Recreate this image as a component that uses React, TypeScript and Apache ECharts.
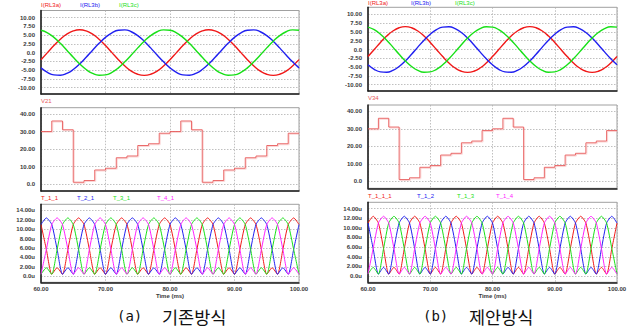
import React, { useEffect, useRef } from "react";
import * as echarts from "echarts";

// ---------- data ----------
const sineTime = [60, 61, 62, 63, 64, 65, 66, 67, 68, 69, 70, 71, 72, 73, 74, 75, 76, 77, 78, 79, 80, 81, 82, 83, 84, 85, 86, 87, 88, 89, 90, 91, 92, 93, 94, 95, 96, 97, 98, 99, 100];
const iRL3a = [-2.01, 0, 2.01, 3.82, 5.26, 6.18, 6.5, 6.18, 5.26, 3.82, 2.01, 0, -2.01, -3.82, -5.26, -6.18, -6.5, -6.18, -5.26, -3.82, -2.01, 0, 2.01, 3.82, 5.26, 6.18, 6.5, 6.18, 5.26, 3.82, 2.01, 0, -2.01, -3.82, -5.26, -6.18, -6.5, -6.18, -5.26, -3.82, -2.01];
const iRL3b = [-4.35, -5.63, -6.36, -6.47, -5.94, -4.83, -3.25, -1.35, 0.68, 2.64, 4.35, 5.63, 6.36, 6.47, 5.94, 4.83, 3.25, 1.35, -0.68, -2.64, -4.35, -5.63, -6.36, -6.47, -5.94, -4.83, -3.25, -1.35, 0.68, 2.64, 4.35, 5.63, 6.36, 6.47, 5.94, 4.83, 3.25, 1.35, -0.68, -2.64, -4.35];
const iRL3c = [6.36, 5.63, 4.35, 2.64, 0.68, -1.35, -3.25, -4.83, -5.94, -6.47, -6.36, -5.63, -4.35, -2.64, -0.68, 1.35, 3.25, 4.83, 5.94, 6.47, 6.36, 5.63, 4.35, 2.64, 0.68, -1.35, -3.25, -4.83, -5.94, -6.47, -6.36, -5.63, -4.35, -2.64, -0.68, 1.35, 3.25, 4.83, 5.94, 6.47, 6.36];

const stepTime = [60, 61.67, 63.33, 65, 66.67, 68.33, 70, 71.67, 73.33, 75, 76.67, 78.33, 80, 81.67, 83.33, 85, 86.67, 88.33, 90, 91.67, 93.33, 95, 96.67, 98.33, 100];
const v21 = [30, 36, 31, 1, 2, 8, 9, 15, 16, 22, 23, 29, 30, 36, 31, 1, 2, 8, 9, 15, 16, 22, 23, 29, 29];
const v34 = [30, 36, 31, 1, 2, 8, 9, 15, 16, 22, 23, 29, 30, 36, 31, 1, 2, 8, 9, 15, 16, 22, 23, 29, 29];

const tTime = [60, 60.83, 61.67, 62.5, 63.33, 64.17, 65, 65.83, 66.67, 67.5, 68.33, 69.17, 70, 70.83, 71.67, 72.5, 73.33, 74.17, 75, 75.83, 76.67, 77.5, 78.33, 79.17, 80, 80.83, 81.67, 82.5, 83.33, 84.17, 85, 85.83, 86.67, 87.5, 88.33, 89.17, 90, 90.83, 91.67, 92.5, 93.33, 94.17, 95, 95.83, 96.67, 97.5, 98.33, 99.17, 100];
// (a) conventional
const t11 = [11, 5.7, 0.4, 1.8, 0.4, 5.7, 11, 12.4, 11, 5.7, 0.4, 1.8, 0.4, 5.7, 11, 12.4, 11, 5.7, 0.4, 1.8, 0.4, 5.7, 11, 12.4, 11, 5.7, 0.4, 1.8, 0.4, 5.7, 11, 12.4, 11, 5.7, 0.4, 1.8, 0.4, 5.7, 11, 12.4, 11, 5.7, 0.4, 1.8, 0.4, 5.7, 11, 12.4, 11];
const t21 = [11, 12.4, 11, 5.7, 0.4, 1.8, 0.4, 5.7, 11, 12.4, 11, 5.7, 0.4, 1.8, 0.4, 5.7, 11, 12.4, 11, 5.7, 0.4, 1.8, 0.4, 5.7, 11, 12.4, 11, 5.7, 0.4, 1.8, 0.4, 5.7, 11, 12.4, 11, 5.7, 0.4, 1.8, 0.4, 5.7, 11, 12.4, 11, 5.7, 0.4, 1.8, 0.4, 5.7, 11];
const t31 = [0.4, 1.8, 0.4, 5.7, 11, 12.4, 11, 5.7, 0.4, 1.8, 0.4, 5.7, 11, 12.4, 11, 5.7, 0.4, 1.8, 0.4, 5.7, 11, 12.4, 11, 5.7, 0.4, 1.8, 0.4, 5.7, 11, 12.4, 11, 5.7, 0.4, 1.8, 0.4, 5.7, 11, 12.4, 11, 5.7, 0.4, 1.8, 0.4, 5.7, 11, 12.4, 11, 5.7, 0.4];
const t41 = [0.4, 5.7, 11, 12.4, 11, 5.7, 0.4, 1.8, 0.4, 5.7, 11, 12.4, 11, 5.7, 0.4, 1.8, 0.4, 5.7, 11, 12.4, 11, 5.7, 0.4, 1.8, 0.4, 5.7, 11, 12.4, 11, 5.7, 0.4, 1.8, 0.4, 5.7, 11, 12.4, 11, 5.7, 0.4, 1.8, 0.4, 5.7, 11, 12.4, 11, 5.7, 0.4, 1.8, 0.4];
// (b) proposed
const t111 = [11, 12.4, 11, 5.7, 0.4, 1.8, 0.4, 5.7, 11, 12.4, 11, 5.7, 0.4, 1.8, 0.4, 5.7, 11, 12.4, 11, 5.7, 0.4, 1.8, 0.4, 5.7, 11, 12.4, 11, 5.7, 0.4, 1.8, 0.4, 5.7, 11, 12.4, 11, 5.7, 0.4, 1.8, 0.4, 5.7, 11, 12.4, 11, 5.7, 0.4, 1.8, 0.4, 5.7, 11];
const t12 = [11, 5.7, 0.4, 1.8, 0.4, 5.7, 11, 12.4, 11, 5.7, 0.4, 1.8, 0.4, 5.7, 11, 12.4, 11, 5.7, 0.4, 1.8, 0.4, 5.7, 11, 12.4, 11, 5.7, 0.4, 1.8, 0.4, 5.7, 11, 12.4, 11, 5.7, 0.4, 1.8, 0.4, 5.7, 11, 12.4, 11, 5.7, 0.4, 1.8, 0.4, 5.7, 11, 12.4, 11];
const t13 = [0.4, 1.8, 0.4, 5.7, 11, 12.4, 11, 5.7, 0.4, 1.8, 0.4, 5.7, 11, 12.4, 11, 5.7, 0.4, 1.8, 0.4, 5.7, 11, 12.4, 11, 5.7, 0.4, 1.8, 0.4, 5.7, 11, 12.4, 11, 5.7, 0.4, 1.8, 0.4, 5.7, 11, 12.4, 11, 5.7, 0.4, 1.8, 0.4, 5.7, 11, 12.4, 11, 5.7, 0.4];
const t14 = [0.4, 5.7, 11, 12.4, 11, 5.7, 0.4, 1.8, 0.4, 5.7, 11, 12.4, 11, 5.7, 0.4, 1.8, 0.4, 5.7, 11, 12.4, 11, 5.7, 0.4, 1.8, 0.4, 5.7, 11, 12.4, 11, 5.7, 0.4, 1.8, 0.4, 5.7, 11, 12.4, 11, 5.7, 0.4, 1.8, 0.4, 5.7, 11, 12.4, 11, 5.7, 0.4, 1.8, 0.4];

const sineTicks = [-10, -7.5, -5, -2.5, 0, 2.5, 5, 7.5, 10];
const stepTicks = [0, 10, 20, 30, 40];
const tTicks = [0, 2, 4, 6, 8, 10, 12, 14];

// ---------- styling ----------
const SANS = '"Liberation Sans", Arial, Helvetica, sans-serif';
const RED = "#f01818";
const BLUE = "#2020f0";
const GREEN = "#18e018";
const MAGENTA = "#ff20ff";
const STEP = "#e85a5a";
const LBL = "#3a3a3a";

const grids = [
  { left: 41, top: 10.5, width: 258, height: 83.5 },
  { left: 41, top: 107.7, width: 258, height: 83.3 },
  { left: 41, top: 204.3, width: 258, height: 78 },
  { left: 368, top: 7.3, width: 249, height: 83.7 },
  { left: 368, top: 105, width: 249, height: 83.3 },
  { left: 368, top: 202.3, width: 249, height: 80 },
];

function fmt(v: number, unit: string) {
  if (v === 0) return "0.0" + unit;
  return v.toFixed(2) + unit;
}

function App() {
  const ref = useRef<HTMLDivElement>(null);
  useEffect(() => {
    const chart = echarts.init(ref.current!, null, { renderer: "svg" });
    const pair = (xs: number[], ys: number[]) => xs.map((x, i) => [x, ys[i]]);

    const xAxis = grids.map((_, i) => {
      const bottom = i === 2 || i === 5;
      return {
        type: "value",
        gridIndex: i,
        min: 60,
        max: 100,
        interval: 10,
        name: bottom ? "Time (ms)" : "",
        nameLocation: "middle",
        nameGap: 11,
        nameTextStyle: { fontSize: 6, fontWeight: "bold", color: LBL, fontFamily: SANS },
        axisLine: { show: true, onZero: false, lineStyle: { color: "#1a1a1a", width: 1.5 } },
        axisTick: { show: false },
        axisLabel: {
          show: bottom,
          fontSize: 6,
          fontWeight: "bold",
          color: LBL,
          fontFamily: SANS,
          margin: 4,
          formatter: (v: number) => v.toFixed(2),
        },
        splitLine: { show: true, lineStyle: { type: [1.5, 1.5], color: "#b0b0b0", width: 0.8 } },
      };
    });

    const yDefs = [
      { min: -11.8, max: 12, ticks: sineTicks, unit: "" },
      { min: -4, max: 43.6, ticks: stepTicks, unit: "" },
      { min: -1.3, max: 15.3, ticks: tTicks, unit: "u" },
      { min: -11.8, max: 12, ticks: sineTicks, unit: "" },
      { min: -4, max: 43.6, ticks: stepTicks, unit: "" },
      { min: -1.3, max: 15.3, ticks: tTicks, unit: "u" },
    ];
    const yAxis = yDefs.map((d, i) => ({
      type: "value",
      gridIndex: i,
      min: d.min,
      max: d.max,
      axisLine: { show: true, onZero: false, lineStyle: { color: "#1a1a1a", width: 1.5 } },
      axisTick: { show: false, customValues: d.ticks },
      axisLabel: {
        customValues: d.ticks,
        fontSize: 6,
        fontWeight: "bold",
        color: LBL,
        fontFamily: SANS,
        margin: 6,
        formatter: (v: number) => fmt(v, d.unit),
      },
      splitLine: { show: true, lineStyle: { type: [1.5, 1.5], color: "#b0b0b0", width: 0.8 } },
    }));

    const line = (idx: number, data: number[][], color: string, width: number, extra: any = {}) => ({
      type: "line",
      xAxisIndex: idx,
      yAxisIndex: idx,
      data,
      symbol: "none",
      showSymbol: false,
      lineStyle: { color, width },
      itemStyle: { color },
      z: 3,
      ...extra,
    });

    const stepExtra = {
      step: "end",
      lineStyle: { color: STEP, width: 0.9, shadowColor: "rgba(245,160,160,0.6)", shadowBlur: 0, shadowOffsetX: 0.8, shadowOffsetY: 0.8 },
    };

    const series = [
      line(0, pair(sineTime, iRL3a), RED, 1.4, { smooth: true }),
      line(0, pair(sineTime, iRL3b), BLUE, 1.4, { smooth: true }),
      line(0, pair(sineTime, iRL3c), GREEN, 1.4, { smooth: true }),
      line(1, pair(stepTime, v21), STEP, 0.9, stepExtra),
      line(2, pair(tTime, t11), RED, 1, { smooth: 0.2 }),
      line(2, pair(tTime, t21), BLUE, 1, { smooth: 0.2 }),
      line(2, pair(tTime, t31), GREEN, 1, { smooth: 0.2 }),
      line(2, pair(tTime, t41), MAGENTA, 1, { smooth: 0.2 }),
      line(3, pair(sineTime, iRL3a), RED, 1.4, { smooth: true }),
      line(3, pair(sineTime, iRL3b), BLUE, 1.4, { smooth: true }),
      line(3, pair(sineTime, iRL3c), GREEN, 1.4, { smooth: true }),
      line(4, pair(stepTime, v34), STEP, 0.9, stepExtra),
      line(5, pair(tTime, t111), RED, 1, { smooth: 0.2 }),
      line(5, pair(tTime, t12), BLUE, 1, { smooth: 0.2 }),
      line(5, pair(tTime, t13), GREEN, 1, { smooth: 0.2 }),
      line(5, pair(tTime, t14), MAGENTA, 1, { smooth: 0.2 }),
    ];

    const label = (text: string, x: number, y: number, fill: string) => ({
      type: "text",
      x,
      y,
      silent: true,
      style: { text, fill, fontSize: 6, fontFamily: SANS, align: "left", verticalAlign: "middle" },
    });
    const capPart = (text: string, x: number, font: string, size: number) => ({
      type: "text",
      x,
      y: 316,
      silent: true,
      style: { text, fill: "#111", fontSize: size, fontFamily: font, align: "left", verticalAlign: "middle" },
    });
    const MONO = '"DejaVu Sans Mono", "Liberation Mono", monospace';
    const KR = '"Noto Sans CJK KR", sans-serif';
    const graphic = [
      label("I(RL3a)", 41, 5, RED),
      label("I(RL3b)", 80, 5, BLUE),
      label("I(RL3c)", 119, 5, GREEN),
      label("V21", 41, 100.7, STEP),
      label("T_1_1", 41, 197.7, RED),
      label("T_2_1", 77, 197.7, BLUE),
      label("T_3_1", 113, 197.7, GREEN),
      label("T_4_1", 157, 197.7, MAGENTA),
      label("I(RL3a)", 368, 2.5, RED),
      label("I(RL3b)", 411, 2.5, BLUE),
      label("I(RL3c)", 455, 2.5, GREEN),
      label("V34", 368, 98.3, STEP),
      label("T_1_1_1", 368, 196, RED),
      label("T_1_2", 417, 196, BLUE),
      label("T_1_3", 457, 196, GREEN),
      label("T_1_4", 496, 196, MAGENTA),
      capPart("(a)", 117, MONO, 14),
      capPart("기존방식", 162, KR, 17.5),
      capPart("(b)", 423, MONO, 14),
      capPart("제안방식", 469, KR, 17.5),
    ];

    chart.setOption({
      animation: false,
      backgroundColor: "#ffffff",
      grid: grids.map((g) => ({ ...g, show: true, borderColor: "#a0a0a0", borderWidth: 1, backgroundColor: "#fff" })),
      xAxis,
      yAxis,
      series,
      graphic,
    });
    return () => chart.dispose();
  }, []);
  return <div ref={ref} style={{ position: "fixed", left: 0, top: 0, width: 634, height: 329, background: "#fff" }} />;
}

export default App;
